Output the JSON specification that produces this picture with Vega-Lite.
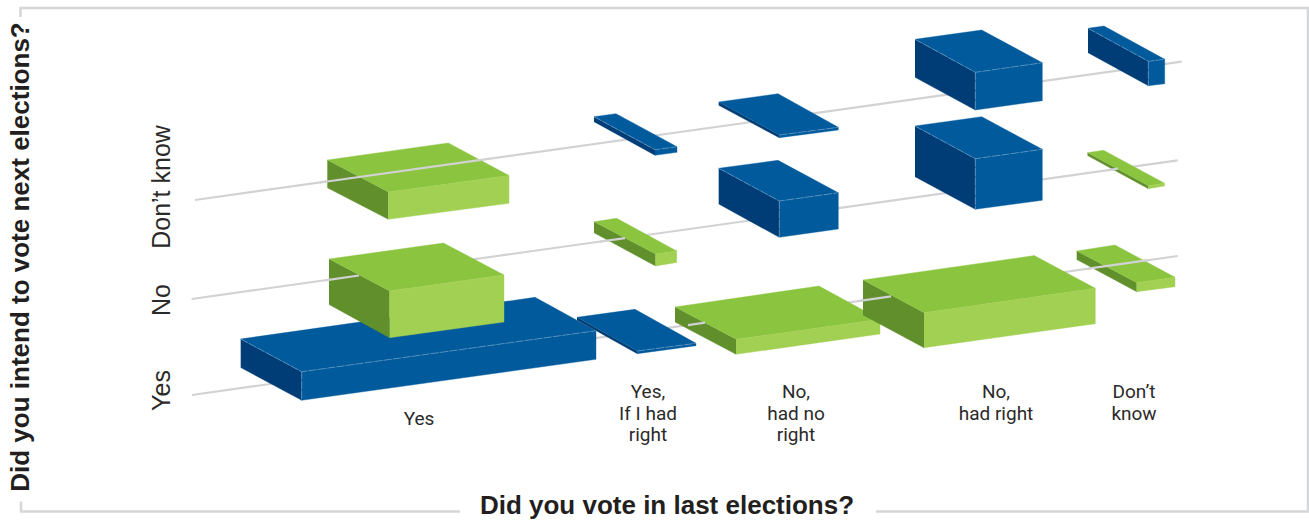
{
"$schema":"https://vega.github.io/schema/vega-lite/v6.json",
"width":1309,"height":521,
"autosize":{"type":"none"},
"padding":0,
"background":"#ffffff",
"view":{"stroke":null},
"config":{"axis":{"domain":false,"ticks":false,"grid":false,"labels":false,"title":null}},
"datasets":{
"frame":[
{"part":"top","o":1,"x":20.5,"y":17},{"part":"top","o":2,"x":20.5,"y":8},{"part":"top","o":3,"x":1308,"y":8},{"part":"top","o":4,"x":1308,"y":511.5},{"part":"top","o":5,"x":876,"y":511.5},
{"part":"bottom","o":1,"x":21,"y":501.5},{"part":"bottom","o":2,"x":21,"y":511.5},{"part":"bottom","o":3,"x":460,"y":511.5}
],
"rows":[
{"intent":"Yes","seg":"full","x":192,"y":395},{"intent":"Yes","seg":"full","x":1177.7,"y":256},
{"intent":"No","seg":"full","x":191.7,"y":299},{"intent":"No","seg":"full","x":1177.7,"y":160.3},
{"intent":"Don't know","seg":"full","x":195,"y":200},{"intent":"Don't know","seg":"full","x":1181.7,"y":61.7}
],
"rowsOver":[
{"seg":"dk1","x":320,"y":182.5},{"seg":"dk1","x":481,"y":159.9},
{"seg":"no1","x":325,"y":280.3},{"seg":"no1","x":359,"y":275.5},
{"seg":"no2","x":600,"y":241.6},{"seg":"no2","x":625,"y":238.1},
{"seg":"no3","x":1108,"y":170.1},{"seg":"no3","x":1118,"y":168.7},
{"seg":"y1","x":688,"y":325.1},{"seg":"y1","x":705,"y":322.7},
{"seg":"y2","x":858,"y":301.1},{"seg":"y2","x":891,"y":296.4},
{"seg":"y3","x":1088,"y":268.6},{"seg":"y3","x":1150,"y":259.9}
],
"faces":[
{"part":"1s","tone":"blue side","o":1,"x":240.7,"y":339},{"part":"1s","tone":"blue side","o":2,"x":301.7,"y":371.7},{"part":"1s","tone":"blue side","o":3,"x":301.7,"y":400.3},{"part":"1s","tone":"blue side","o":4,"x":240.7,"y":367.5},
{"part":"1t","tone":"blue top","o":1,"x":240.7,"y":339},{"part":"1t","tone":"blue top","o":2,"x":535,"y":297.3},{"part":"1t","tone":"blue top","o":3,"x":596,"y":330.7},{"part":"1t","tone":"blue top","o":4,"x":301.7,"y":371.7},
{"part":"1f","tone":"blue front","o":1,"x":301.7,"y":371.7},{"part":"1f","tone":"blue front","o":2,"x":596,"y":330.7},{"part":"1f","tone":"blue front","o":3,"x":596,"y":359.3},{"part":"1f","tone":"blue front","o":4,"x":301.7,"y":400.3},

{"part":"4s","tone":"blue side","o":1,"x":577,"y":317.3},{"part":"4s","tone":"blue side","o":2,"x":637.3,"y":351},{"part":"4s","tone":"blue side","o":3,"x":637.3,"y":353.7},{"part":"4s","tone":"blue side","o":4,"x":577,"y":320},
{"part":"4t","tone":"blue top","o":1,"x":577,"y":317.3},{"part":"4t","tone":"blue top","o":2,"x":635,"y":309.3},{"part":"4t","tone":"blue top","o":3,"x":696,"y":343.3},{"part":"4t","tone":"blue top","o":4,"x":637.3,"y":351},
{"part":"4f","tone":"blue front","o":1,"x":637.3,"y":351},{"part":"4f","tone":"blue front","o":2,"x":696,"y":343.3},{"part":"4f","tone":"blue front","o":3,"x":696,"y":345.7},{"part":"4f","tone":"blue front","o":4,"x":637.3,"y":353.7},

{"part":"2s","tone":"green side","o":1,"x":329,"y":259},{"part":"2s","tone":"green side","o":2,"x":389.5,"y":291},{"part":"2s","tone":"green side","o":3,"x":389.5,"y":337.7},{"part":"2s","tone":"green side","o":4,"x":329,"y":304.5},
{"part":"2t","tone":"green top","o":1,"x":329,"y":259},{"part":"2t","tone":"green top","o":2,"x":443.5,"y":243},{"part":"2t","tone":"green top","o":3,"x":504,"y":275},{"part":"2t","tone":"green top","o":4,"x":389.5,"y":291},
{"part":"2f","tone":"green front","o":1,"x":389.5,"y":291},{"part":"2f","tone":"green front","o":2,"x":504,"y":275},{"part":"2f","tone":"green front","o":3,"x":504,"y":322},{"part":"2f","tone":"green front","o":4,"x":389.5,"y":337.7},

{"part":"3s","tone":"green side","o":1,"x":327.3,"y":160},{"part":"3s","tone":"green side","o":2,"x":388.3,"y":192},{"part":"3s","tone":"green side","o":3,"x":388.3,"y":219.3},{"part":"3s","tone":"green side","o":4,"x":327.3,"y":187.7},
{"part":"3t","tone":"green top","o":1,"x":327.3,"y":160},{"part":"3t","tone":"green top","o":2,"x":448.3,"y":142.9},{"part":"3t","tone":"green top","o":3,"x":509,"y":175.5},{"part":"3t","tone":"green top","o":4,"x":388.3,"y":192},
{"part":"3f","tone":"green front","o":1,"x":388.3,"y":192},{"part":"3f","tone":"green front","o":2,"x":509,"y":175.5},{"part":"3f","tone":"green front","o":3,"x":509,"y":203.3},{"part":"3f","tone":"green front","o":4,"x":388.3,"y":219.3},

{"part":"5s","tone":"green side","o":1,"x":594,"y":221.7},{"part":"5s","tone":"green side","o":2,"x":655.5,"y":254},{"part":"5s","tone":"green side","o":3,"x":655.5,"y":266},{"part":"5s","tone":"green side","o":4,"x":594,"y":232.7},
{"part":"5t","tone":"green top","o":1,"x":594,"y":221.7},{"part":"5t","tone":"green top","o":2,"x":616.7,"y":218.3},{"part":"5t","tone":"green top","o":3,"x":676.7,"y":251},{"part":"5t","tone":"green top","o":4,"x":655.5,"y":254},
{"part":"5f","tone":"green front","o":1,"x":655.5,"y":254},{"part":"5f","tone":"green front","o":2,"x":676.7,"y":251},{"part":"5f","tone":"green front","o":3,"x":676.7,"y":262.5},{"part":"5f","tone":"green front","o":4,"x":655.5,"y":266},

{"part":"6s","tone":"blue side","o":1,"x":594,"y":116.7},{"part":"6s","tone":"blue side","o":2,"x":655,"y":149.7},{"part":"6s","tone":"blue side","o":3,"x":655,"y":155.3},{"part":"6s","tone":"blue side","o":4,"x":594,"y":121.7},
{"part":"6t","tone":"blue top","o":1,"x":594,"y":116.7},{"part":"6t","tone":"blue top","o":2,"x":616,"y":113.7},{"part":"6t","tone":"blue top","o":3,"x":677,"y":146.7},{"part":"6t","tone":"blue top","o":4,"x":655,"y":149.7},
{"part":"6f","tone":"blue front","o":1,"x":655,"y":149.7},{"part":"6f","tone":"blue front","o":2,"x":677,"y":146.7},{"part":"6f","tone":"blue front","o":3,"x":677,"y":152.3},{"part":"6f","tone":"blue front","o":4,"x":655,"y":155.3},

{"part":"7s","tone":"blue side","o":1,"x":718.7,"y":102},{"part":"7s","tone":"blue side","o":2,"x":779.3,"y":135},{"part":"7s","tone":"blue side","o":3,"x":779.3,"y":137.7},{"part":"7s","tone":"blue side","o":4,"x":718.7,"y":105.3},
{"part":"7t","tone":"blue top","o":1,"x":718.7,"y":102},{"part":"7t","tone":"blue top","o":2,"x":778,"y":93.7},{"part":"7t","tone":"blue top","o":3,"x":838.3,"y":127.3},{"part":"7t","tone":"blue top","o":4,"x":779.3,"y":135},
{"part":"7f","tone":"blue front","o":1,"x":779.3,"y":135},{"part":"7f","tone":"blue front","o":2,"x":838.3,"y":127.3},{"part":"7f","tone":"blue front","o":3,"x":838.3,"y":130},{"part":"7f","tone":"blue front","o":4,"x":779.3,"y":137.7},

{"part":"8s","tone":"blue side","o":1,"x":718.7,"y":168.3},{"part":"8s","tone":"blue side","o":2,"x":779.3,"y":201},{"part":"8s","tone":"blue side","o":3,"x":779.3,"y":237.3},{"part":"8s","tone":"blue side","o":4,"x":718.7,"y":204},
{"part":"8t","tone":"blue top","o":1,"x":718.7,"y":168.3},{"part":"8t","tone":"blue top","o":2,"x":778,"y":160.3},{"part":"8t","tone":"blue top","o":3,"x":838.3,"y":192.7},{"part":"8t","tone":"blue top","o":4,"x":779.3,"y":201},
{"part":"8f","tone":"blue front","o":1,"x":779.3,"y":201},{"part":"8f","tone":"blue front","o":2,"x":838.3,"y":192.7},{"part":"8f","tone":"blue front","o":3,"x":838.3,"y":229},{"part":"8f","tone":"blue front","o":4,"x":779.3,"y":237.3},

{"part":"9s","tone":"green side","o":1,"x":675,"y":307},{"part":"9s","tone":"green side","o":2,"x":736,"y":339.3},{"part":"9s","tone":"green side","o":3,"x":736,"y":354.3},{"part":"9s","tone":"green side","o":4,"x":675,"y":322},
{"part":"9t","tone":"green top","o":1,"x":675,"y":307},{"part":"9t","tone":"green top","o":2,"x":819,"y":286},{"part":"9t","tone":"green top","o":3,"x":880,"y":319.3},{"part":"9t","tone":"green top","o":4,"x":736,"y":339.3},
{"part":"9f","tone":"green front","o":1,"x":736,"y":339.3},{"part":"9f","tone":"green front","o":2,"x":880,"y":319.3},{"part":"9f","tone":"green front","o":3,"x":880,"y":334},{"part":"9f","tone":"green front","o":4,"x":736,"y":354.3},

{"part":"10s","tone":"green side","o":1,"x":863,"y":280},{"part":"10s","tone":"green side","o":2,"x":924,"y":312.7},{"part":"10s","tone":"green side","o":3,"x":924,"y":347.7},{"part":"10s","tone":"green side","o":4,"x":863,"y":315},
{"part":"10t","tone":"green top","o":1,"x":863,"y":280},{"part":"10t","tone":"green top","o":2,"x":1034.3,"y":255.6},{"part":"10t","tone":"green top","o":3,"x":1095.3,"y":288.3},{"part":"10t","tone":"green top","o":4,"x":924,"y":312.7},
{"part":"10f","tone":"green front","o":1,"x":924,"y":312.7},{"part":"10f","tone":"green front","o":2,"x":1095.3,"y":288.3},{"part":"10f","tone":"green front","o":3,"x":1095.3,"y":323.7},{"part":"10f","tone":"green front","o":4,"x":924,"y":347.7},

{"part":"11s","tone":"blue side","o":1,"x":915,"y":126},{"part":"11s","tone":"blue side","o":2,"x":975.3,"y":158.7},{"part":"11s","tone":"blue side","o":3,"x":975.3,"y":209.3},{"part":"11s","tone":"blue side","o":4,"x":915,"y":176.7},
{"part":"11t","tone":"blue top","o":1,"x":915,"y":126},{"part":"11t","tone":"blue top","o":2,"x":981.7,"y":116.7},{"part":"11t","tone":"blue top","o":3,"x":1042.3,"y":149.3},{"part":"11t","tone":"blue top","o":4,"x":975.3,"y":158.7},
{"part":"11f","tone":"blue front","o":1,"x":975.3,"y":158.7},{"part":"11f","tone":"blue front","o":2,"x":1042.3,"y":149.3},{"part":"11f","tone":"blue front","o":3,"x":1042.3,"y":200.3},{"part":"11f","tone":"blue front","o":4,"x":975.3,"y":209.3},

{"part":"12s","tone":"blue side","o":1,"x":915,"y":39.3},{"part":"12s","tone":"blue side","o":2,"x":975.3,"y":72.3},{"part":"12s","tone":"blue side","o":3,"x":975.3,"y":110},{"part":"12s","tone":"blue side","o":4,"x":915,"y":77.3},
{"part":"12t","tone":"blue top","o":1,"x":915,"y":39.3},{"part":"12t","tone":"blue top","o":2,"x":981.7,"y":30},{"part":"12t","tone":"blue top","o":3,"x":1042.3,"y":62.7},{"part":"12t","tone":"blue top","o":4,"x":975.3,"y":72.3},
{"part":"12f","tone":"blue front","o":1,"x":975.3,"y":72.3},{"part":"12f","tone":"blue front","o":2,"x":1042.3,"y":62.7},{"part":"12f","tone":"blue front","o":3,"x":1042.3,"y":100.7},{"part":"12f","tone":"blue front","o":4,"x":975.3,"y":110},

{"part":"13s","tone":"blue side","o":1,"x":1088,"y":28.3},{"part":"13s","tone":"blue side","o":2,"x":1148.3,"y":61.3},{"part":"13s","tone":"blue side","o":3,"x":1148.3,"y":85.7},{"part":"13s","tone":"blue side","o":4,"x":1088,"y":52.7},
{"part":"13t","tone":"blue top","o":1,"x":1088,"y":28.3},{"part":"13t","tone":"blue top","o":2,"x":1104,"y":26},{"part":"13t","tone":"blue top","o":3,"x":1164.7,"y":59.3},{"part":"13t","tone":"blue top","o":4,"x":1148.3,"y":61.3},
{"part":"13f","tone":"blue front","o":1,"x":1148.3,"y":61.3},{"part":"13f","tone":"blue front","o":2,"x":1164.7,"y":59.3},{"part":"13f","tone":"blue front","o":3,"x":1164.7,"y":83.7},{"part":"13f","tone":"blue front","o":4,"x":1148.3,"y":85.7},

{"part":"14s","tone":"green side","o":1,"x":1087.5,"y":152.7},{"part":"14s","tone":"green side","o":2,"x":1148.3,"y":185.7},{"part":"14s","tone":"green side","o":3,"x":1148.3,"y":188.7},{"part":"14s","tone":"green side","o":4,"x":1087.5,"y":155.5},
{"part":"14t","tone":"green top","o":1,"x":1087.5,"y":152.7},{"part":"14t","tone":"green top","o":2,"x":1103.5,"y":150.2},{"part":"14t","tone":"green top","o":3,"x":1164.5,"y":183.2},{"part":"14t","tone":"green top","o":4,"x":1148.3,"y":185.7},
{"part":"14f","tone":"green front","o":1,"x":1148.3,"y":185.7},{"part":"14f","tone":"green front","o":2,"x":1164.5,"y":183.2},{"part":"14f","tone":"green front","o":3,"x":1164.5,"y":186},{"part":"14f","tone":"green front","o":4,"x":1148.3,"y":188.7},

{"part":"15s","tone":"green side","o":1,"x":1076.7,"y":251},{"part":"15s","tone":"green side","o":2,"x":1136.7,"y":282.7},{"part":"15s","tone":"green side","o":3,"x":1136.7,"y":291.7},{"part":"15s","tone":"green side","o":4,"x":1076.7,"y":259.5},
{"part":"15t","tone":"green top","o":1,"x":1076.7,"y":251},{"part":"15t","tone":"green top","o":2,"x":1115,"y":245},{"part":"15t","tone":"green top","o":3,"x":1175,"y":277.3},{"part":"15t","tone":"green top","o":4,"x":1136.7,"y":282.7},
{"part":"15f","tone":"green front","o":1,"x":1136.7,"y":282.7},{"part":"15f","tone":"green front","o":2,"x":1175,"y":277.3},{"part":"15f","tone":"green front","o":3,"x":1175,"y":286.7},{"part":"15f","tone":"green front","o":4,"x":1136.7,"y":291.7}
],
"edges":[
{"part":"1a","o":1,"x":240.7,"y":339},{"part":"1a","o":2,"x":301.7,"y":371.7},{"part":"1a","o":3,"x":596,"y":330.7},{"part":"1b","o":1,"x":301.7,"y":371.7},{"part":"1b","o":2,"x":301.7,"y":400.3},
{"part":"4a","o":1,"x":637.3,"y":351},{"part":"4a","o":2,"x":696,"y":343.3},
{"part":"6a","o":1,"x":594,"y":116.7},{"part":"6a","o":2,"x":655,"y":149.7},{"part":"6a","o":3,"x":677,"y":146.7},
{"part":"7a","o":1,"x":779.3,"y":135},{"part":"7a","o":2,"x":838.3,"y":127.3},
{"part":"8a","o":1,"x":718.7,"y":168.3},{"part":"8a","o":2,"x":779.3,"y":201},{"part":"8a","o":3,"x":838.3,"y":192.7},{"part":"8b","o":1,"x":779.3,"y":201},{"part":"8b","o":2,"x":779.3,"y":237.3},
{"part":"11a","o":1,"x":915,"y":126},{"part":"11a","o":2,"x":975.3,"y":158.7},{"part":"11a","o":3,"x":1042.3,"y":149.3},{"part":"11b","o":1,"x":975.3,"y":158.7},{"part":"11b","o":2,"x":975.3,"y":209.3},
{"part":"12a","o":1,"x":915,"y":39.3},{"part":"12a","o":2,"x":975.3,"y":72.3},{"part":"12a","o":3,"x":1042.3,"y":62.7},{"part":"12b","o":1,"x":975.3,"y":72.3},{"part":"12b","o":2,"x":975.3,"y":110},
{"part":"13a","o":1,"x":1088,"y":28.3},{"part":"13a","o":2,"x":1148.3,"y":61.3},{"part":"13a","o":3,"x":1164.7,"y":59.3},{"part":"13b","o":1,"x":1148.3,"y":61.3},{"part":"13b","o":2,"x":1148.3,"y":85.7}
],
"voteLabels":[
{"t":"Yes","x":419,"y":425},
{"t":"Yes,","x":648,"y":398},{"t":"If I had","x":648,"y":420},{"t":"right","x":648,"y":441},
{"t":"No,","x":796,"y":398},{"t":"had no","x":796,"y":420},{"t":"right","x":796,"y":441},
{"t":"No,","x":996,"y":398},{"t":"had right","x":996,"y":420},
{"t":"Don’t","x":1134,"y":398},{"t":"know","x":1134,"y":420}
],
"intentLabels":[
{"t":"Yes","x":170,"y":390.5},{"t":"No","x":170,"y":300},{"t":"Don’t know","x":170,"y":187}
],
"titleY":[{"t":"Did you intend to vote next elections?","x":28.5,"y":257}],
"titleX":[{"t":"Did you vote in last elections?","x":667,"y":514}]
},
"encoding":{
"x":{"field":"x","type":"quantitative","scale":{"domain":[0,1309],"nice":false,"zero":false},"axis":null},
"y":{"field":"y","type":"quantitative","scale":{"domain":[521,0],"nice":false,"zero":false},"axis":null}
},
"layer":[
{"data":{"name":"frame"},"mark":{"type":"line","stroke":"#d5d6d8","strokeWidth":2.5},
 "encoding":{"detail":{"field":"part"},"order":{"field":"o","type":"quantitative"}}},
{"data":{"name":"rows"},"mark":{"type":"line","stroke":"#d1d2d4","strokeWidth":2.2},
 "encoding":{"detail":{"field":"intent"}}},
{"data":{"name":"faces"},"mark":{"type":"line","strokeWidth":0.4},
 "encoding":{
  "detail":{"field":"part"},
  "order":{"field":"o","type":"quantitative"},
  "fill":{"field":"tone","type":"nominal","legend":null,"scale":{"domain":["blue top","blue side","blue front","green top","green side","green front"],"range":["#005a9c","#003c75","#005a9c","#8bc43f","#608f2c","#a2d052"]}},
  "stroke":{"field":"tone","type":"nominal","legend":null,"scale":{"domain":["blue top","blue side","blue front","green top","green side","green front"],"range":["#005a9c","#003c75","#005a9c","#8bc43f","#608f2c","#a2d052"]}}
 }},
{"data":{"name":"edges"},"mark":{"type":"line","stroke":"#6f9fc9","strokeWidth":0.7,"strokeDash":[8,1.5]},
 "encoding":{"detail":{"field":"part"},"order":{"field":"o","type":"quantitative"}}},
{"data":{"name":"rowsOver"},"mark":{"type":"line","stroke":"#d1d2d4","strokeWidth":2.2},
 "encoding":{"detail":{"field":"seg"}}},
{"data":{"name":"voteLabels"},"mark":{"type":"text","font":"Roboto","fontSize":19,"align":"center","baseline":"alphabetic","fill":"#2b2a29"},
 "encoding":{"text":{"field":"t"}}},
{"data":{"name":"intentLabels"},"mark":{"type":"text","font":"Liberation Sans","fontSize":25,"angle":270,"align":"center","baseline":"alphabetic","fill":"#2b2a29"},
 "encoding":{"text":{"field":"t"}}},
{"data":{"name":"titleY"},"mark":{"type":"text","font":"Liberation Sans","fontWeight":"bold","fontSize":26,"angle":270,"align":"center","baseline":"alphabetic","fill":"#231f20"},
 "encoding":{"text":{"field":"t"}}},
{"data":{"name":"titleX"},"mark":{"type":"text","font":"Liberation Sans","fontWeight":"bold","fontSize":26,"align":"center","baseline":"alphabetic","fill":"#231f20"},
 "encoding":{"text":{"field":"t"}}}
]
}
